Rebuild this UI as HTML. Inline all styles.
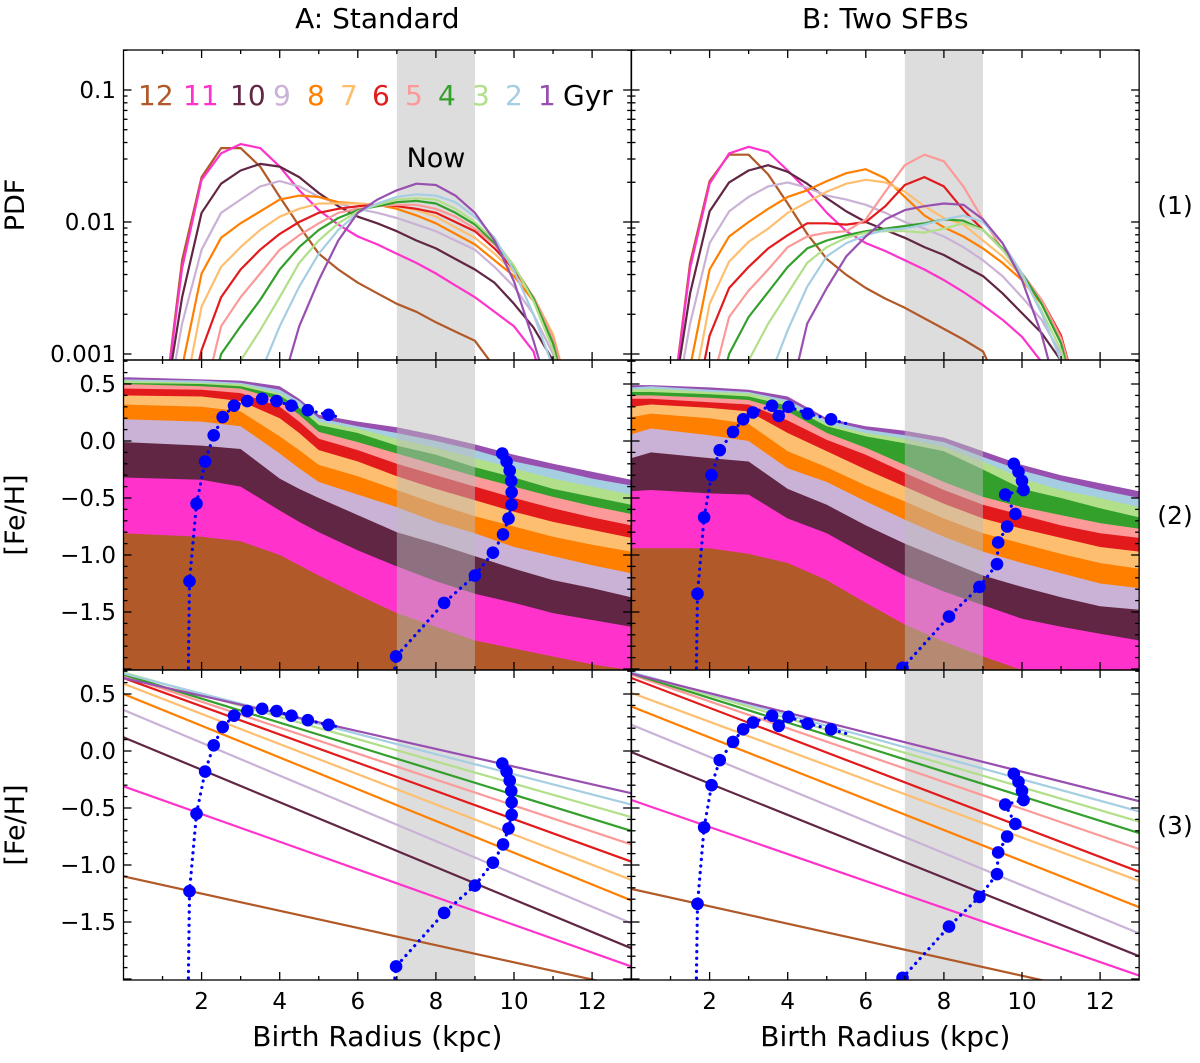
<!DOCTYPE html>
<html><head><meta charset="utf-8"><style>
body{margin:0;background:#fff}
svg text{font-family:"DejaVu Sans","Liberation Sans",sans-serif;fill:#000}
</style></head><body>
<svg id="fig" width="1200" height="1058" viewBox="0 0 1200 1058" xmlns="http://www.w3.org/2000/svg"></svg>
<script>
// ===== data =====
const ages = [12,11,10,9,8,7,6,5,4,3,2,1];
const ageColors = ["#b15928","#ff33cc","#612644","#cab2d6","#ff7f00","#fdbf6f","#e31a1c","#fb9a99","#33a02c","#b2df8a","#a6cee3","#9850b0"];
const pdfX = [1,1.5,2,2.5,3,3.5,4,4.5,5,5.5,6,6.5,7,7.5,8,8.5,9,9.5,10,10.5,11,11.5,12];
const pdfA12 = [-3.5,-2.29,-1.66,-1.44,-1.44,-1.58,-1.81,-2.03,-2.24,-2.36,-2.46,-2.54,-2.62,-2.68,-2.76,-2.83,-2.90,-3.10,-3.3,-3.5,-3.6,-3.7,-3.8];
const pdfA11 = [-3.5,-2.35,-1.68,-1.48,-1.41,-1.44,-1.58,-1.76,-1.91,-2.02,-2.11,-2.17,-2.24,-2.31,-2.39,-2.48,-2.57,-2.68,-2.79,-2.98,-3.5,-3.8,-3.8];
const pdfA10 = [-3.5,-2.57,-1.93,-1.71,-1.61,-1.56,-1.58,-1.66,-1.78,-1.88,-1.96,-2.01,-2.07,-2.14,-2.20,-2.28,-2.36,-2.46,-2.62,-2.80,-3.05,-3.5,-3.8];
const pdfA9  = [-3.6,-2.77,-2.21,-1.93,-1.83,-1.73,-1.69,-1.73,-1.81,-1.86,-1.90,-1.93,-1.97,-2.02,-2.07,-2.14,-2.21,-2.34,-2.49,-2.70,-3.0,-3.5,-3.8];
const pdfA8  = [-3.8,-3.1,-2.39,-2.12,-2.01,-1.92,-1.83,-1.80,-1.81,-1.85,-1.86,-1.87,-1.90,-1.95,-2.01,-2.09,-2.17,-2.29,-2.41,-2.60,-2.87,-3.4,-3.8];
const pdfA7  = [-3.8,-3.4,-2.64,-2.34,-2.19,-2.06,-1.96,-1.90,-1.86,-1.86,-1.86,-1.87,-1.88,-1.91,-1.96,-2.04,-2.12,-2.24,-2.38,-2.57,-2.85,-3.4,-3.8];
const pdfA6  = [-3.8,-3.6,-2.97,-2.57,-2.36,-2.21,-2.09,-2.00,-1.93,-1.90,-1.88,-1.87,-1.88,-1.90,-1.93,-2.00,-2.07,-2.20,-2.36,-2.57,-2.88,-3.4,-3.8];
const pdfA5  = [-3.8,-3.8,-3.4,-2.79,-2.57,-2.39,-2.21,-2.10,-2.01,-1.93,-1.90,-1.88,-1.87,-1.87,-1.90,-1.96,-2.05,-2.17,-2.34,-2.57,-2.88,-3.4,-3.8];
const pdfA4  = [-3.8,-3.8,-3.6,-3.0,-2.79,-2.59,-2.36,-2.19,-2.06,-1.97,-1.91,-1.88,-1.85,-1.84,-1.86,-1.93,-2.02,-2.16,-2.34,-2.58,-2.92,-3.5,-3.8];
const pdfA3  = [-3.8,-3.8,-3.8,-3.6,-3.05,-2.82,-2.57,-2.31,-2.14,-2.01,-1.92,-1.87,-1.83,-1.82,-1.83,-1.90,-2.00,-2.14,-2.33,-2.60,-2.97,-3.5,-3.8];
const pdfA2  = [-3.8,-3.8,-3.8,-3.8,-3.6,-3.15,-2.79,-2.49,-2.24,-2.06,-1.93,-1.86,-1.81,-1.79,-1.80,-1.85,-1.96,-2.12,-2.37,-2.70,-3.1,-3.6,-3.8];
const pdfA1  = [-3.8,-3.8,-3.8,-3.8,-3.8,-3.8,-3.3,-2.79,-2.44,-2.14,-1.93,-1.83,-1.76,-1.71,-1.72,-1.80,-1.93,-2.14,-2.45,-2.90,-3.4,-3.8,-3.8];
const pdfB12 = [-3.5,-2.31,-1.69,-1.49,-1.49,-1.64,-1.86,-2.09,-2.28,-2.40,-2.50,-2.58,-2.65,-2.73,-2.81,-2.89,-2.98,-3.3,-3.5,-3.6,-3.7,-3.8,-3.8];
const pdfB11 = [-3.5,-2.35,-1.71,-1.48,-1.43,-1.47,-1.61,-1.76,-1.93,-2.07,-2.16,-2.22,-2.29,-2.36,-2.44,-2.53,-2.63,-2.74,-2.87,-3.06,-3.5,-3.8,-3.8];
const pdfB10 = [-3.5,-2.54,-1.92,-1.70,-1.61,-1.57,-1.62,-1.71,-1.82,-1.92,-2.00,-2.06,-2.12,-2.19,-2.25,-2.33,-2.41,-2.54,-2.69,-2.84,-3.05,-3.5,-3.8];
const pdfB9  = [-3.6,-2.77,-2.16,-1.92,-1.81,-1.73,-1.70,-1.74,-1.80,-1.83,-1.87,-1.93,-2.00,-2.05,-2.11,-2.19,-2.29,-2.41,-2.57,-2.74,-3.0,-3.5,-3.8];
const pdfB8  = [-3.8,-3.1,-2.36,-2.11,-2.00,-1.90,-1.81,-1.76,-1.69,-1.63,-1.60,-1.67,-1.81,-1.95,-2.04,-2.11,-2.20,-2.31,-2.44,-2.62,-2.88,-3.4,-3.8];
const pdfB7  = [-3.8,-3.4,-2.62,-2.30,-2.15,-2.05,-1.93,-1.85,-1.77,-1.71,-1.68,-1.70,-1.77,-1.88,-1.97,-2.02,-2.14,-2.26,-2.41,-2.59,-2.86,-3.4,-3.8];
const pdfB6  = [-3.8,-3.6,-2.86,-2.50,-2.34,-2.20,-2.10,-2.01,-2.01,-2.02,-2.00,-1.88,-1.72,-1.66,-1.73,-1.91,-2.06,-2.21,-2.39,-2.59,-2.86,-3.4,-3.8];
const pdfB5  = [-3.8,-3.8,-3.3,-2.72,-2.52,-2.36,-2.19,-2.11,-2.08,-2.07,-1.98,-1.77,-1.57,-1.49,-1.54,-1.73,-1.98,-2.21,-2.39,-2.59,-2.88,-3.4,-3.8];
const pdfB4  = [-3.8,-3.8,-3.6,-3.0,-2.72,-2.53,-2.34,-2.20,-2.14,-2.10,-2.07,-2.05,-2.03,-2.01,-1.98,-1.99,-2.06,-2.20,-2.39,-2.62,-2.92,-3.5,-3.8];
const pdfB3  = [-3.8,-3.8,-3.8,-3.6,-3.05,-2.77,-2.54,-2.31,-2.19,-2.12,-2.08,-2.07,-2.07,-2.08,-2.05,-2.01,-2.06,-2.21,-2.41,-2.67,-2.97,-3.5,-3.8];
const pdfB2  = [-3.8,-3.8,-3.8,-3.8,-3.6,-3.2,-2.82,-2.49,-2.26,-2.16,-2.10,-2.06,-2.05,-2.02,-1.98,-1.95,-2.00,-2.16,-2.39,-2.69,-3.05,-3.6,-3.8];
const pdfB1  = [-3.8,-3.8,-3.8,-3.8,-3.8,-3.8,-3.4,-2.77,-2.50,-2.26,-2.11,-1.98,-1.91,-1.88,-1.86,-1.87,-1.98,-2.16,-2.44,-2.85,-3.4,-3.8,-3.8];
const pdfA = [pdfA12,pdfA11,pdfA10,pdfA9,pdfA8,pdfA7,pdfA6,pdfA5,pdfA4,pdfA3,pdfA2,pdfA1];
const pdfB = [pdfB12,pdfB11,pdfB10,pdfB9,pdfB8,pdfB7,pdfB6,pdfB5,pdfB4,pdfB3,pdfB2,pdfB1];

const bandXA = [0,2,3,4,4.5,5,6,7,8,9,10,11,12,13];
const bandA12 = [-0.81,-0.84,-0.88,-1.00,-1.09,-1.18,-1.35,-1.51,-1.63,-1.75,-1.82,-1.89,-1.96,-2.01];
const bandA11 = [-0.32,-0.34,-0.40,-0.61,-0.71,-0.80,-0.96,-1.10,-1.23,-1.34,-1.42,-1.51,-1.57,-1.63];
const bandA10 = [-0.01,-0.04,-0.07,-0.33,-0.42,-0.50,-0.65,-0.80,-0.90,-1.01,-1.12,-1.22,-1.29,-1.37];
const bandA9  = [0.19,0.17,0.13,-0.11,-0.24,-0.36,-0.47,-0.58,-0.71,-0.81,-0.93,-1.01,-1.09,-1.16];
const bandA8  = [0.32,0.30,0.26,0.04,-0.08,-0.21,-0.31,-0.43,-0.55,-0.66,-0.75,-0.84,-0.91,-0.97];
const bandA7  = [0.40,0.39,0.35,0.20,0.07,-0.08,-0.18,-0.31,-0.42,-0.52,-0.62,-0.71,-0.78,-0.85];
const bandA6  = [0.46,0.45,0.42,0.30,0.17,0.02,-0.08,-0.20,-0.30,-0.40,-0.50,-0.59,-0.67,-0.74];
const bandA5  = [0.50,0.48,0.46,0.36,0.23,0.08,-0.01,-0.11,-0.21,-0.31,-0.40,-0.49,-0.57,-0.64];
const bandA4  = [0.51,0.50,0.48,0.40,0.29,0.14,0.07,-0.04,-0.12,-0.23,-0.32,-0.42,-0.49,-0.56];
const bandA3  = [0.53,0.51,0.50,0.42,0.32,0.17,0.11,0.02,-0.06,-0.15,-0.24,-0.33,-0.40,-0.47];
const bandA2  = [0.54,0.53,0.51,0.45,0.35,0.20,0.13,0.07,0.00,-0.08,-0.18,-0.25,-0.33,-0.39];
const bandA1  = [0.56,0.54,0.53,0.48,0.37,0.23,0.17,0.12,0.05,-0.03,-0.12,-0.20,-0.27,-0.34];
const bandXB = [0,0.5,2,3,4,5,6,7,8,9,10,11,12,13];
const bandB12 = [-0.94,-0.94,-0.94,-0.99,-1.07,-1.22,-1.42,-1.61,-1.76,-1.89,-2.01,-2.10,-2.17,-2.20];
const bandB11 = [-0.44,-0.43,-0.46,-0.47,-0.68,-0.81,-1.00,-1.18,-1.32,-1.44,-1.56,-1.63,-1.69,-1.75];
const bandB10 = [-0.15,-0.10,-0.15,-0.18,-0.42,-0.56,-0.74,-0.90,-1.04,-1.18,-1.28,-1.37,-1.45,-1.48];
const bandB9  = [0.06,0.11,0.05,0.00,-0.24,-0.36,-0.53,-0.69,-0.84,-0.97,-1.07,-1.16,-1.25,-1.29];
const bandB8  = [0.21,0.24,0.20,0.15,-0.09,-0.23,-0.39,-0.53,-0.68,-0.81,-0.90,-0.99,-1.07,-1.12];
const bandB7  = [0.30,0.32,0.29,0.26,0.07,-0.09,-0.25,-0.40,-0.55,-0.68,-0.77,-0.85,-0.93,-0.97];
const bandB6  = [0.37,0.37,0.34,0.32,0.18,0.01,-0.12,-0.28,-0.43,-0.56,-0.65,-0.74,-0.81,-0.85];
const bandB5  = [0.40,0.40,0.38,0.36,0.26,0.07,-0.06,-0.21,-0.36,-0.49,-0.58,-0.65,-0.72,-0.77];
const bandB4  = [0.43,0.43,0.41,0.39,0.31,0.13,0.04,-0.02,-0.09,-0.25,-0.42,-0.50,-0.59,-0.67];
const bandB3  = [0.45,0.46,0.43,0.42,0.34,0.15,0.07,0.02,-0.05,-0.18,-0.33,-0.43,-0.50,-0.58];
const bandB2  = [0.47,0.48,0.45,0.43,0.36,0.18,0.10,0.05,-0.01,-0.14,-0.26,-0.35,-0.43,-0.50];
const bandB1  = [0.49,0.49,0.47,0.45,0.39,0.20,0.13,0.09,0.03,-0.09,-0.21,-0.30,-0.37,-0.44];
const bandA = [bandA12,bandA11,bandA10,bandA9,bandA8,bandA7,bandA6,bandA5,bandA4,bandA3,bandA2,bandA1];
const bandB = [bandB12,bandB11,bandB10,bandB9,bandB8,bandB7,bandB6,bandB5,bandB4,bandB3,bandB2,bandB1];

const lineStartA = [-1.10,-0.31,0.12,0.36,0.50,0.59,0.64,0.66,0.67,0.69,0.68,0.64];
const lineEndA   = [-2.08,-1.89,-1.73,-1.51,-1.31,-1.13,-0.97,-0.82,-0.70,-0.58,-0.47,-0.37];
const lineStartB = [-1.21,-0.43,-0.01,0.23,0.39,0.51,0.64,0.67,0.68,0.69,0.69,0.68];
const lineEndB   = [-2.20,-1.97,-1.80,-1.60,-1.37,-1.14,-1.06,-0.86,-0.72,-0.62,-0.53,-0.44];

const trkA1R = [1.66,1.69,1.87,2.09,2.31,2.54,2.83,3.17,3.55,3.92,4.30,4.72,5.25,5.53];
const trkA1F = [-2.05,-1.23,-0.55,-0.18,0.05,0.21,0.31,0.35,0.37,0.35,0.31,0.27,0.23,0.21];
const trkA1dot = [0,1,1,1,1,1,1,1,1,1,1,1,1,0];
const trkA2R = [6.93,6.98,8.21,9.00,9.46,9.72,9.86,9.94,9.94,9.93,9.89,9.81,9.70];
const trkA2F = [-2.05,-1.89,-1.42,-1.18,-0.98,-0.82,-0.68,-0.56,-0.45,-0.35,-0.26,-0.18,-0.11];
const trkA2dot = [0,1,1,1,1,1,1,1,1,1,1,1,1];
const trkB1R = [1.66,1.69,1.86,2.05,2.26,2.60,2.86,3.11,3.60,3.77,4.02,4.51,5.11,5.53];
const trkB1F = [-2.05,-1.34,-0.67,-0.30,-0.08,0.08,0.19,0.25,0.31,0.22,0.30,0.24,0.19,0.15];
const trkB1dot = [0,1,1,1,1,1,1,1,1,1,1,1,1,0];
const trkB2R = [6.92,6.94,8.13,8.91,9.36,9.39,9.62,9.83,9.57,10.04,10.00,9.91,9.79];
const trkB2F = [-2.05,-1.99,-1.54,-1.28,-1.08,-0.89,-0.75,-0.64,-0.47,-0.43,-0.35,-0.27,-0.20];
const trkB2dot = [0,1,1,1,1,1,1,1,1,1,1,1,1];

const xTicks = [2,4,6,8,10,12];
const xTickLabels = ["2","4","6","8","10","12"];
const fehTicks = [0.5,0,-0.5,-1,-1.5];
const fehTickLabels = ["0.5","0.0","\u22120.5","\u22121.0","\u22121.5"];
const logTicks = [-1,-2,-3];
const logTickLabels = ["0.1","0.01","0.001"];

// ===== layout =====
const NS = "http://www.w3.org/2000/svg";
const svg = document.getElementById('fig');
const cols = [{x0:123.5},{x0:631.5}];
const KPC = 39.05;
const rows = [{top:50,bot:360},{top:360,bot:670},{top:670,bot:980}];
function sx(c,r){return cols[c].x0 + r*KPC;}
function syLog(v){return 90 - (v+1)*132;}
function syFeh(row,v){return (row===1?441:751) - v*114;}
function mk(tag,attrs,parent){const e=document.createElementNS(NS,tag);for(const k in attrs)e.setAttribute(k,attrs[k]);(parent||svg).appendChild(e);return e;}

const defs = mk('defs',{});
for(let c=0;c<2;c++)for(let r=0;r<3;r++){
  const cp = mk('clipPath',{id:'clip'+c+r},defs);
  mk('rect',{x:cols[c].x0,y:rows[r].top,width:13*KPC,height:rows[r].bot-rows[r].top},cp);
}

function band(c,r,g,beneath){
  const rect = mk('rect',{x:sx(c,7),y:rows[r].top,width:2*KPC,height:rows[r].bot-rows[r].top,fill:beneath?'#dddddd':'#bbbbbb','fill-opacity':beneath?1:0.5},g);
  
  
}

for(let c=0;c<2;c++){
  let g = mk('g',{'clip-path':'url(#clip'+c+'0)'});
  
  
  band(c,0,g,true);
  const pdf = c? pdfB : pdfA;
  for(let i=0;i<ages.length;i++){
    const pts = pdfX.map((x,j)=>sx(c,x).toFixed(1)+','+syLog(pdf[i][j]).toFixed(1)).join(' ');
    const pl = mk('polyline',{points:pts,fill:'none',stroke:ageColors[i],'stroke-width':2.2,'stroke-linejoin':'round'},g);
    
    
  }
  g = mk('g',{'clip-path':'url(#clip'+c+'1)'});
  
  
  const bx = c? bandXB : bandXA, bd = c? bandB : bandA;
  for(let i=ages.length-1;i>=0;i--){
    let pts = bx.map((x,j)=>sx(c,x).toFixed(1)+','+syFeh(1,bd[i][j]).toFixed(1));
    pts.push(sx(c,13)+','+(rows[1].bot+5)); pts.push(sx(c,0)+','+(rows[1].bot+5));
    const pg = mk('polygon',{points:pts.join(' '),fill:ageColors[i]},g);
    
    
  }
  band(c,1,g,false);
  drawTracks(c,1,g);
  g = mk('g',{'clip-path':'url(#clip'+c+'2)'});
  
  
  band(c,2,g,true);
  const ls = c? lineStartB:lineStartA, le = c? lineEndB:lineEndA;
  for(let i=0;i<ages.length;i++){
    const ln = mk('line',{x1:sx(c,0),y1:syFeh(2,ls[i]),x2:sx(c,13),y2:syFeh(2,le[i]),stroke:ageColors[i],'stroke-width':2.2},g);
    
    
  }
  drawTracks(c,2,g);
}

function drawTracks(c,row,g){
  const tr = c? [[trkB1R,trkB1F,trkB1dot],[trkB2R,trkB2F,trkB2dot]] : [[trkA1R,trkA1F,trkA1dot],[trkA2R,trkA2F,trkA2dot]];
  tr.forEach((t,k)=>{
    const pts = t[0].map((x,j)=>sx(c,x).toFixed(1)+','+syFeh(row,t[1][j]).toFixed(1)).join(' ');
    const pl = mk('polyline',{points:pts,fill:'none',stroke:'#0000ff','stroke-width':3.2,'stroke-dasharray':'0.1 6.5','stroke-linecap':'round'},g);
    
    
    t[0].forEach((x,j)=>{ if(!t[2][j]) return;
      const ci = mk('circle',{cx:sx(c,x),cy:syFeh(row,t[1][j]),r:6.3,fill:'#0000ff'},g);
      
      
    });
  });
}

for(let c=0;c<2;c++)for(let r=0;r<3;r++){
  const ax = mk('g',{stroke:'#000','stroke-width':1.3,fill:'none'});
  
  
  const L=cols[c].x0, R=L+13*KPC, T=rows[r].top, B=rows[r].bot;
  mk('rect',{x:L,y:T,width:R-L,height:B-T},ax);
  for(let x=1;x<13;x++){const len=(x%2===0)?8:4;const X=sx(c,x);
    mk('line',{x1:X,y1:B,x2:X,y2:B-len},ax);mk('line',{x1:X,y1:T,x2:X,y2:T+len},ax);}
  if(r===0){
    for(let d=-4;d<0;d++)for(let m=1;m<10;m++){const v=d+Math.log10(m);const Y=syLog(v);
      if(Y<T||Y>B)continue;const len=m===1?8:4;
      mk('line',{x1:L,y1:Y,x2:L+len,y2:Y},ax);mk('line',{x1:R,y1:Y,x2:R-len,y2:Y},ax);}
  } else {
    for(let k=-20;k<=7;k++){const v=k/10;const Y=syFeh(r,v);if(Y<T||Y>B)continue;
      const len=(k%5===0)?8:4;
      mk('line',{x1:L,y1:Y,x2:L+len,y2:Y},ax);mk('line',{x1:R,y1:Y,x2:R-len,y2:Y},ax);}
  }
}
function txt(s,x,y,attrs,name){const t=mk('text',Object.assign({x:x,y:y},attrs||{}));t.textContent=s;
  return t;}
logTicks.forEach((v,i)=>txt(logTickLabels[i],116,syLog(v)+8,{'font-size':23,'text-anchor':'end'},'y-tick-label'));
[1,2].forEach(r=>fehTicks.forEach((v,i)=>txt(fehTickLabels[i],116,syFeh(r,v)+8,{'font-size':23,'text-anchor':'end'},'y-tick-label')));
for(let c=0;c<2;c++){
  xTicks.forEach((v,i)=>txt(xTickLabels[i],sx(c,v),1009,{'font-size':23,'text-anchor':'middle'},'x-tick-label'));
  txt('Birth Radius (kpc)',sx(c,6.5),1046,{'font-size':28,'text-anchor':'middle'},'x-axis-title');
}
txt('A: Standard',sx(0,6.5),28,{'font-size':28,'text-anchor':'middle'},'column-title-a');
txt('B: Two SFBs',sx(1,6.5),28,{'font-size':28,'text-anchor':'middle'},'column-title-b');
txt('PDF',0,0,{'font-size':27,'text-anchor':'middle',transform:'translate(24,205) rotate(-90)'},'y-axis-title-pdf');
txt('[Fe/H]',0,0,{'font-size':27,'text-anchor':'middle',transform:'translate(24,515) rotate(-90)'},'y-axis-title-feh');
txt('[Fe/H]',0,0,{'font-size':27,'text-anchor':'middle',transform:'translate(24,825) rotate(-90)'},'y-axis-title-feh');
txt('(1)',1175,214,{'font-size':25,'text-anchor':'middle'},'row-label-1');
txt('(2)',1175,524,{'font-size':25,'text-anchor':'middle'},'row-label-2');
txt('(3)',1175,834,{'font-size':25,'text-anchor':'middle'},'row-label-3');
txt('Now',436,167,{'font-size':27,'text-anchor':'middle'},'now-label');
const legX = [138,183,230,273,307,340,372,405,438,472,505,538];
ages.forEach((a,i)=>{const t=txt(String(a),legX[i],105,{'font-size':28,fill:ageColors[i]},'legend-entry-'+a+'gyr');t.style.fill=ageColors[i];});
txt('Gyr',563,105,{'font-size':28},'legend-unit');
</script>
</body></html>
